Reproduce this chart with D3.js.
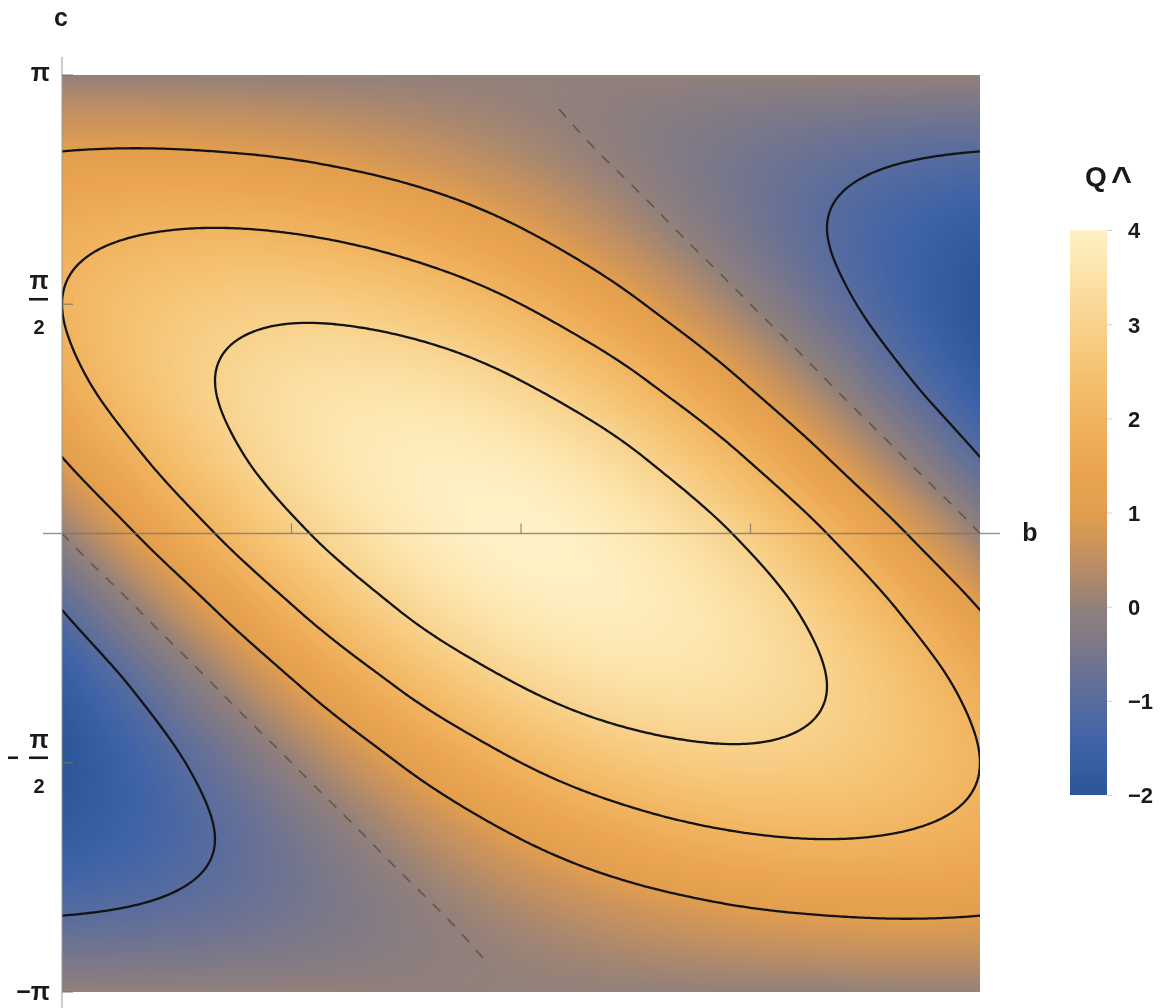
<!DOCTYPE html>
<html>
<head>
<meta charset="utf-8">
<script src="https://cdn.jsdelivr.net/npm/d3@7"></script>
<style>
  html, body { margin: 0; background: #fff; }
  #chart { position: relative; width: 1168px; height: 1008px; }
  svg { position: absolute; left: 0; top: 0; }
  text { font-family: "Liberation Sans", Arial, sans-serif; font-weight: bold; fill: #1a1a1a; }
</style>
</head>
<body>
<div id="chart"></div>
<script>
// Grid positions, in units of π/6
const bSteps = [-6, -5, -4, -3, -2, -1, 0, 1, 2, 3, 4, 5, 6];
const cSteps = [6, 5, 4, 3, 2, 1, 0, -1, -2, -3, -4, -5, -6]; // rows, top to bottom

// Q^ on the (b, c) grid; one row per c value (c = π first)
const qValues = [
  [ 0.00,  0.00,  0.00,  0.00,  0.00,  0.00,  0.00,  0.00,  0.00,  0.00,  0.00,  0.00,  0.00],
  [ 1.00,  1.04,  1.00,  0.90,  0.73,  0.52,  0.27,  0.00, -0.27, -0.52, -0.73, -0.90, -1.00],
  [ 1.73,  1.93,  2.00,  1.93,  1.73,  1.41,  1.00,  0.52,  0.00, -0.52, -1.00, -1.41, -1.73],
  [ 2.00,  2.45,  2.73,  2.83,  2.73,  2.45,  2.00,  1.41,  0.73,  0.00, -0.73, -1.41, -2.00],
  [ 1.73,  2.45,  3.00,  3.35,  3.46,  3.35,  3.00,  2.45,  1.73,  0.90,  0.00, -0.90, -1.73],
  [ 1.00,  1.93,  2.73,  3.35,  3.73,  3.86,  3.73,  3.35,  2.73,  1.93,  1.00,  0.00, -1.00],
  [ 0.00,  1.04,  2.00,  2.83,  3.46,  3.86,  4.00,  3.86,  3.46,  2.83,  2.00,  1.04,  0.00],
  [-1.00,  0.00,  1.00,  1.93,  2.73,  3.35,  3.73,  3.86,  3.73,  3.35,  2.73,  1.93,  1.00],
  [-1.73, -0.90,  0.00,  0.90,  1.73,  2.45,  3.00,  3.35,  3.46,  3.35,  3.00,  2.45,  1.73],
  [-2.00, -1.41, -0.73,  0.00,  0.73,  1.41,  2.00,  2.45,  2.73,  2.83,  2.73,  2.45,  2.00],
  [-1.73, -1.41, -1.00, -0.52,  0.00,  0.52,  1.00,  1.41,  1.73,  1.93,  2.00,  1.93,  1.73],
  [-1.00, -0.90, -0.73, -0.52, -0.27,  0.00,  0.27,  0.52,  0.73,  0.90,  1.00,  1.04,  1.00],
  [ 0.00,  0.00,  0.00,  0.00,  0.00,  0.00,  0.00,  0.00,  0.00,  0.00,  0.00,  0.00,  0.00]
];

const contourLevels = [-1, 1, 2, 3];
const zeroLevel = 0;

const cTicks = [Math.PI, Math.PI / 2, -Math.PI / 2, -Math.PI];
const bTicks = [-Math.PI / 2, 0, Math.PI / 2];
const legendTicks = [4, 3, 2, 1, 0, -1, -2];

const colorStops = [-2, -1.5, -1, -0.5, 0, 0.5, 1, 1.5, 2, 2.5, 3, 3.5, 4];
const colorRange = [
  "rgb(44,86,152)", "rgb(60,98,168)", "rgb(88,108,158)", "rgb(118,118,140)",
  "rgb(146,128,122)", "rgb(192,143,98)", "rgb(226,158,78)", "rgb(236,166,82)",
  "rgb(241,180,96)", "rgb(245,195,115)", "rgb(248,210,140)", "rgb(252,226,168)",
  "rgb(255,241,198)"
];

// ---- layout ----
const W = 1168, H = 1008;
const plot = { left: 62, top: 75, right: 980, bottom: 992 };
const unit = Math.PI / 6;

const x = d3.scaleLinear().domain([bSteps[0] * unit, bSteps[bSteps.length - 1] * unit]).range([plot.left, plot.right]);
const y = d3.scaleLinear().domain([cSteps[cSteps.length - 1] * unit, cSteps[0] * unit]).range([plot.bottom, plot.top]);
const color = d3.scaleLinear().domain(colorStops).range(colorRange).interpolate(d3.interpolateRgb).clamp(true);

// ---- smooth field: bicubic (Catmull-Rom) evaluation of the grid ----
const nR = qValues.length, nC = qValues[0].length;
// one ghost cell beyond each edge, quadratic extrapolation
function val(r, c) {
  if (r < 0) return 3 * val(0, c) - 3 * val(1, c) + val(2, c);
  if (r >= nR) return 3 * val(nR - 1, c) - 3 * val(nR - 2, c) + val(nR - 3, c);
  if (c < 0) return 3 * val(r, 0) - 3 * val(r, 1) + val(r, 2);
  if (c >= nC) return 3 * val(r, nC - 1) - 3 * val(r, nC - 2) + val(r, nC - 3);
  return qValues[r][c];
}
const ext = [];
for (let r = -1; r <= nR; r++) {
  const row = [];
  for (let c = -1; c <= nC; c++) row.push(val(r, c));
  ext.push(row);
}
function cr(p0, p1, p2, p3, t) {
  return p1 + 0.5 * t * (p2 - p0 + t * (2 * p0 - 5 * p1 + 4 * p2 - p3 + t * (3 * (p1 - p2) + p3 - p0)));
}
function sample(gx, gy) {
  const i = Math.max(0, Math.min(Math.floor(gx), nC - 2));
  const j = Math.max(0, Math.min(Math.floor(gy), nR - 2));
  const tx = gx - i, ty = gy - j;
  const col = [];
  for (let k = -1; k <= 2; k++) {
    const row = ext[j + k + 1];
    col.push(cr(row[i], row[i + 1], row[i + 2], row[i + 3], tx));
  }
  return cr(col[0], col[1], col[2], col[3], ty);
}
const gxOf = d3.scaleLinear().domain(x.domain()).range([0, nC - 1]);
const gyOf = d3.scaleLinear().domain([cSteps[0] * unit, cSteps[nR - 1] * unit]).range([0, nR - 1]);

// ---- density image ----
const chart = d3.select("#chart");
const pw = plot.right - plot.left, ph = plot.bottom - plot.top;
const canvas = chart.append("canvas")
  .attr("width", pw).attr("height", ph)
  .style("position", "absolute").style("left", plot.left + "px").style("top", plot.top + "px");
const ctx = canvas.node().getContext("2d");
const img = ctx.createImageData(pw, ph);
const lut = d3.range(0, 1201).map(k => d3.rgb(color(-2 + k * 0.005)));
for (let py = 0; py < ph; py++) {
  const gy = gyOf(y.invert(plot.top + py + 0.5));
  for (let px = 0; px < pw; px++) {
    const v = sample(gxOf(x.invert(plot.left + px + 0.5)), gy);
    const k = Math.max(0, Math.min(1200, Math.round((v + 2) / 0.005)));
    const c = lut[k], o = (py * pw + px) * 4;
    img.data[o] = c.r; img.data[o + 1] = c.g; img.data[o + 2] = c.b; img.data[o + 3] = 255;
  }
}
ctx.putImageData(img, 0, 0);

const svg = chart.append("svg").attr("width", W).attr("height", H);
svg.append("defs").append("clipPath").attr("id", "plotClip")
  .append("rect").attr("x", plot.left).attr("y", plot.top).attr("width", pw).attr("height", ph);

// ---- contour lines ----
const M = 307;
const fine = new Float64Array(M * M);
for (let r = 0; r < M; r++)
  for (let k = 0; k < M; k++)
    fine[r * M + k] = sample(k / (M - 1) * (nC - 1), r / (M - 1) * (nR - 1));
const cx = d3.scaleLinear().domain([0.5, M - 0.5]).range([plot.left, plot.right]);
const cy = d3.scaleLinear().domain([0.5, M - 0.5]).range([plot.top, plot.bottom]);

// split a ring into the runs of points that pass `keep`
function runs(ring, keep) {
  let pts = ring;
  const a = ring[0], b = ring[ring.length - 1];
  if (a[0] === b[0] && a[1] === b[1]) pts = ring.slice(0, -1);
  const n = pts.length, ok = pts.map(keep);
  const s0 = ok.indexOf(false);
  if (s0 === -1) return [{ closed: true, pts }];
  const out = [];
  let cur = [];
  for (let s = 1; s <= n; s++) {
    const idx = (s0 + s) % n;
    if (ok[idx]) cur.push(pts[idx]);
    else { if (cur.length > 1) out.push({ closed: false, pts: cur }); cur = []; }
  }
  if (cur.length > 1) out.push({ closed: false, pts: cur });
  return out;
}
const inside = p => p[0] > 0 && p[0] < M && p[1] > 0 && p[1] < M;
const lineOpen = d3.line().x(p => cx(p[0])).y(p => cy(p[1]));
const lineClosed = d3.line().x(p => cx(p[0])).y(p => cy(p[1])).curve(d3.curveLinearClosed);

const gContours = svg.append("g").attr("clip-path", "url(#plotClip)");
function drawLevel(level, keep, style) {
  const geo = d3.contours().size([M, M]).thresholds([level])(fine)[0];
  geo.coordinates.forEach(poly => poly.forEach(ring => {
    runs(ring, keep).forEach(r => {
      const path = gContours.append("path")
        .attr("d", r.closed ? lineClosed(r.pts) : lineOpen(r.pts))
        .attr("fill", "none")
        .attr("stroke-linejoin", "round").attr("stroke-linecap", "round");
      style(path);
    });
  }));
}
// zero level: dashed, kept away from the top and bottom edges
drawLevel(zeroLevel,
  p => inside(p) && Math.abs(y.invert(cy(p[1]))) <= 2.93,
  p => p.attr("stroke", "rgba(75,62,55,0.6)").attr("stroke-width", 1.8).attr("stroke-dasharray", "9,12"));
contourLevels.forEach(level => drawLevel(level, inside,
  p => p.attr("stroke", "#141414").attr("stroke-width", 2.3)));

// ---- axes ----
const axisColor = "rgba(120,115,110,0.75)";
svg.append("line").attr("x1", 43).attr("x2", 1000).attr("y1", y(0)).attr("y2", y(0))
  .attr("stroke", axisColor).attr("stroke-width", 1.4);
svg.append("line").attr("x1", plot.left).attr("x2", plot.left).attr("y1", 57).attr("y2", H)
  .attr("stroke", "rgba(150,150,150,0.8)").attr("stroke-width", 1.2);
svg.selectAll(".btick").data(bTicks).join("line")
  .attr("x1", d => x(d)).attr("x2", d => x(d)).attr("y1", y(0)).attr("y2", y(0) - 10)
  .attr("stroke", axisColor).attr("stroke-width", 1.3);
svg.selectAll(".ctick").data(cTicks).join("line")
  .attr("x1", plot.left).attr("x2", plot.left + 11).attr("y1", d => y(d)).attr("y2", d => y(d))
  .attr("stroke", axisColor).attr("stroke-width", 1.3);

svg.append("text").attr("x", 61).attr("y", 26).attr("text-anchor", "middle").attr("font-size", 25).text("c");
svg.append("text").attr("x", 1030).attr("y", 541).attr("text-anchor", "middle").attr("font-size", 25).text("b");

// c tick labels
svg.append("text").attr("x", 50).attr("y", y(Math.PI) + 6).attr("text-anchor", "end").attr("font-size", 25).text("π");
svg.append("text").attr("x", 50).attr("y", y(-Math.PI) + 8).attr("text-anchor", "end").attr("font-size", 25).text("−π");
[Math.PI / 2, -Math.PI / 2].forEach(v => {
  const yy = y(v) - 5;
  svg.append("text").attr("x", 39).attr("y", yy - 10).attr("text-anchor", "middle").attr("font-size", 25).text("π");
  svg.append("line").attr("x1", 29).attr("x2", 48).attr("y1", yy).attr("y2", yy)
    .attr("stroke", "#1a1a1a").attr("stroke-width", 2.6);
  svg.append("text").attr("x", 39).attr("y", yy + 35).attr("text-anchor", "middle").attr("font-size", 20).text("2");
  if (v < 0) {
    svg.append("line").attr("x1", 8).attr("x2", 18).attr("y1", yy).attr("y2", yy)
      .attr("stroke", "#1a1a1a").attr("stroke-width", 2.6);
  }
});

// ---- colour legend ----
const lg = { left: 1070, right: 1107, top: 230, bottom: 795 };
const ly = d3.scaleLinear().domain([-2, 4]).range([lg.bottom, lg.top]);
const grad = svg.select("defs").append("linearGradient").attr("id", "legendGrad")
  .attr("x1", 0).attr("x2", 0).attr("y1", 1).attr("y2", 0);
d3.range(-2, 4.001, 0.1).forEach(v => {
  grad.append("stop").attr("offset", (v + 2) / 6).attr("stop-color", color(v));
});
svg.append("rect").attr("x", lg.left).attr("y", lg.top).attr("width", lg.right - lg.left)
  .attr("height", lg.bottom - lg.top).attr("fill", "url(#legendGrad)");
const legendAxis = d3.axisRight(ly).tickValues(legendTicks).tickSize(5).tickPadding(16)
  .tickFormat(d => d < 0 ? "−" + Math.abs(d) : String(d));
const la = svg.append("g").attr("transform", `translate(${lg.right},0)`).call(legendAxis);
la.select(".domain").remove();
la.selectAll(".tick line").attr("stroke", "rgba(180,180,180,0.6)");
la.selectAll(".tick text").attr("font-size", 22).attr("font-family", "Liberation Sans, Arial, sans-serif")
  .attr("font-weight", "bold").attr("fill", "#1a1a1a").attr("dy", "0.36em");
svg.append("text").attr("x", 1085).attr("y", 186).attr("font-size", 28).text("Q");
svg.append("text").attr("x", 1111).attr("y", 192).attr("font-size", 36).text("^");
</script>
</body>
</html>
